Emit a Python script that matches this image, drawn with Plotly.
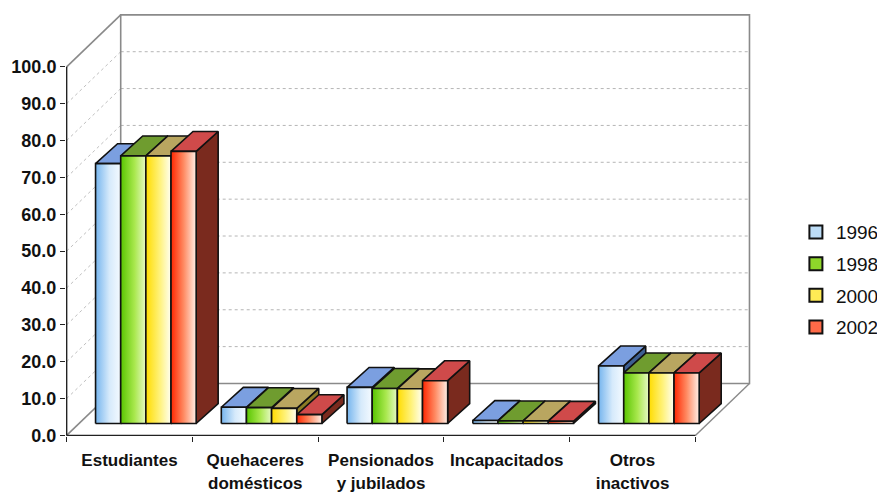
import plotly.graph_objects as go

# Data (percent)
categories = ["Estudiantes", "Quehaceres<br>domésticos", "Pensionados<br>y jubilados",
              "Incapacitados", "Otros<br>inactivos"]
years = ["1996", "1998", "2000", "2002"]
v1996 = [70.5, 4.4, 9.8, 0.8, 15.6]
v1998 = [72.6, 4.3, 9.5, 0.7, 13.7]
v2000 = [72.6, 4.1, 9.4, 0.7, 13.7]
v2002 = [73.8, 2.4, 11.6, 0.6, 13.7]
yticks = [0, 10, 20, 30, 40, 50, 60, 70, 80, 90, 100]

series = [v1996, v1998, v2000, v2002]

# face colours per series: front gradient, top, side
front_scales = [
    [[0, "#76b5ee"], [0.55, "#d6eafb"], [1, "#f4faff"]],
    [[0, "#58c400"], [0.55, "#a9e84e"], [1, "#e6f9c4"]],
    [[0, "#ffdc00"], [0.55, "#fff27a"], [1, "#fffff2"]],
    [[0, "#ff2600"], [0.5, "#ff8a62"], [1, "#ffefe6"]],
]
top_colors = ["#7b9fe0", "#6f9c2f", "#b9a660", "#cf4a4a"]
side_colors = ["#3d5f92", "#436d12", "#8a7a24", "#7a2a1e"]
legend_colors = ["#bcdcf6", "#8ed62a", "#ffeb55", "#ff6a48"]

# 3D geometry in axis units
WX, WY = 0.43, 14.1      # wall depth
DX0, DY0 = 0.13, 3.25    # bar front offset from front plane
BX, BY = 0.175, 5.4      # bar depth
BW = 0.2                 # bar width
EDGE = dict(color="#111111", width=1.6)

fig = go.Figure()


def face(xs, ys, **kw):
    fig.add_trace(go.Scatter(x=xs + [xs[0]], y=ys + [ys[0]], mode="lines",
                             fill="toself", line=EDGE, showlegend=False,
                             hoverinfo="skip", **kw))


for i in range(len(categories)):
    for j, vals in enumerate(series):
        x0 = i - 0.4 + j * BW + DX0
        x1 = x0 + BW
        y0 = DY0
        y1 = DY0 + vals[i]
        face([x1, x1 + BX, x1 + BX, x1], [y0, y0 + BY, y1 + BY, y1],
             fillcolor=side_colors[j])
        face([x0, x1, x1 + BX, x0 + BX], [y1, y1, y1 + BY, y1 + BY],
             fillcolor=top_colors[j])
        face([x0, x1, x1, x0], [y0, y0, y1, y1],
             fillgradient=dict(type="horizontal", colorscale=front_scales[j]))

for j, yr in enumerate(years):
    fig.add_trace(go.Scatter(x=[None], y=[None], mode="markers", name=yr,
                             legendgroup=yr,
                             marker=dict(symbol="square", size=13, color=legend_colors[j],
                                         line=dict(color="#111111", width=2))))

# walls, floor and gridlines
gray = "#8a8a8a"
shapes = []
xl, xr = -0.5, len(categories) - 0.5
for v in yticks[1:-1]:
    shapes.append(dict(type="line", x0=xl + WX, x1=xr + WX, y0=v + WY, y1=v + WY,
                       line=dict(color="#b5b5b5", width=1, dash="dot"), layer="below"))
    shapes.append(dict(type="line", x0=xl, x1=xl + WX, y0=v, y1=v + WY,
                       line=dict(color="#c0c0c0", width=1, dash="dot"), layer="below"))
shapes += [
    dict(type="rect", x0=xl + WX, x1=xr + WX, y0=WY, y1=100 + WY,
         line=dict(color=gray, width=1.6), layer="below"),
    dict(type="line", x0=xl, x1=xl + WX, y0=100, y1=100 + WY,
         line=dict(color=gray, width=1.6), layer="below"),
    dict(type="line", x0=xl, x1=xl + WX, y0=0, y1=WY,
         line=dict(color=gray, width=1.6), layer="below"),
    dict(type="line", x0=xr, x1=xr + WX, y0=0, y1=WY,
         line=dict(color=gray, width=1.4), layer="below"),
    dict(type="line", x0=xl, x1=xl, y0=0, y1=100,
         line=dict(color="#222222", width=1.5)),
    dict(type="line", x0=xl, x1=xr, y0=0, y1=0,
         line=dict(color="#222222", width=1.5)),
]

# the page body adds an 8px margin, so the figure is 8px smaller than the window
font_family = "Liberation Sans, Arial, sans-serif"
fig.update_layout(
    width=877, height=486,
    paper_bgcolor="white", plot_bgcolor="white",
    margin=dict(l=58, r=133, t=5, b=58, autoexpand=False),
    shapes=shapes,
    xaxis=dict(range=[-0.505, 4.95], showgrid=False, zeroline=False, showline=False,
               automargin=False,
               tickvals=list(range(len(categories))), ticktext=categories,
               ticks="outside", ticklen=9, tickcolor="rgba(0,0,0,0)",
               tickfont=dict(family=font_family, size=17, color="#111111", weight="bold"),
               minor=dict(tickvals=[k - 0.5 for k in range(len(categories) + 1)],
                          ticks="outside", ticklen=5, tickcolor="#222222", tickwidth=1.3)),
    yaxis=dict(range=[-0.15, 114.6], showgrid=False, zeroline=False, showline=False,
               automargin=False,
               tickvals=yticks, tickformat=".1f", ticks="outside", ticklen=5,
               tickcolor="#222222", tickwidth=1.3,
               tickfont=dict(family=font_family, size=18, color="#111111", weight="bold")),
    legend=dict(x=1.064, y=0.527, xanchor="left", yanchor="top", tracegroupgap=4,
                font=dict(family=font_family, size=19, color="#111111"),
                bgcolor="rgba(0,0,0,0)"),
)

fig.write_html("out.html")
